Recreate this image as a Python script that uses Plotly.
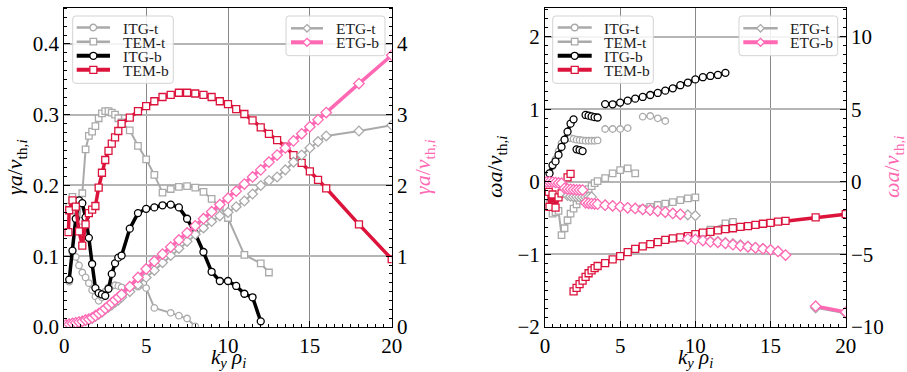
import plotly.graph_objects as go

# ---------------- data ----------------
# growth rates (left panel)
ky_itg_b = [0.3,0.5,0.7,0.9,1.1,1.3,1.5,1.7,1.9,2.1,2.3,2.5,2.7,2.9,3.1,3.3,3.5,
            4.0,4.5,5.0,5.5,6.0,6.5,7.0,7.5,8.0,8.5,9.0,9.5,10.0,10.5,11.0,11.5,12.0]
gamma_itg_b = [0.067,0.108,0.153,0.179,0.175,0.155,0.126,0.089,0.055,0.048,0.046,0.044,0.054,0.075,0.090,0.098,0.101,
               0.139,0.161,0.167,0.169,0.172,0.173,0.169,0.153,0.132,0.106,0.078,0.065,0.065,0.058,0.047,0.042,0.008]

ky_itg_t = [0.3,0.5,0.7,0.9,1.1,1.3,1.5,1.7,1.9,2.1,2.3,2.5,2.7,2.9,3.1,3.3,3.5,
            4.0,4.5,5.0,5.5,6.5,7.0,7.5,8.0]
gamma_itg_t = [0.064,0.105,0.099,0.087,0.077,0.070,0.062,0.052,0.043,0.037,0.042,0.050,0.056,0.058,0.059,0.058,0.056,
               0.053,0.057,0.055,0.027,0.020,0.016,0.012,0.001]

ky_tem_t = [0.3,0.5,0.7,0.9,1.1,1.3,1.5,1.7,1.9,2.1,2.3,2.5,2.7,2.9,3.1,3.3,3.5,
            4.0,4.5,5.0,5.5,6.0,6.5,7.0,7.5,8.0,8.5,9.0,9.5,10.0,11.0,12.0,12.5]
gamma_tem_t = [0.170,0.184,0.165,0.150,0.189,0.251,0.270,0.276,0.284,0.295,0.302,0.305,0.305,0.303,0.300,0.295,0.289,
               0.278,0.256,0.237,0.215,0.190,0.195,0.198,0.199,0.197,0.191,0.181,0.170,0.154,0.102,0.090,0.077]

ky_tem_b = [0.25,0.3,0.5,0.7,0.9,1.1,1.3,1.5,1.7,1.9,2.1,2.3,2.5,2.7,2.9,3.1,3.3,3.5,
            4.0,4.5,5.0,5.5,6.0,6.5,7.0,7.5,8.0,8.5,9.0,9.5,10.0,10.5,11.0,11.5,12.0,12.5,13.0,13.5,
            14.0,14.5,15.0,15.5,16.0,18.0,20.0]
gamma_tem_b = [0.134,0.165,0.179,0.170,0.135,0.115,0.145,0.161,0.166,0.171,0.197,0.218,0.236,0.249,0.259,0.268,0.277,0.287,
               0.296,0.305,0.312,0.319,0.325,0.328,0.331,0.331,0.330,0.328,0.325,0.319,0.315,0.308,0.301,0.292,0.282,
               0.273,0.264,0.255,0.243,0.232,0.220,0.208,0.196,0.145,0.096]

ky_etg = [0.1,0.3,0.5,0.7,0.9,1.1,1.3,1.5,1.7,1.9,2.1,2.3,2.5,2.7,2.9,3.1,3.3,3.5,
          4.0,4.5,5.0,5.5,6.0,6.5,7.0,7.5,8.0,8.5,9.0,9.5,10.0,10.5,11.0,11.5,12.0,12.5,13.0,13.5,
          14.0,14.5,15.0,15.5,16.0,18.0,20.0]
gamma_etg_t = [0.03,0.04,0.05,0.06,0.07,0.08,0.09,0.10,0.12,0.15,0.18,0.21,0.25,0.28,0.31,0.35,0.38,0.42,
               0.50,0.60,0.70,0.80,0.91,1.01,1.11,1.21,1.31,1.40,1.49,1.57,1.62,1.70,1.78,1.88,2.00,2.07,2.12,2.22,
               2.33,2.43,2.53,2.62,2.70,2.77,2.85]
gamma_etg_b = [0.03,0.04,0.05,0.06,0.07,0.08,0.10,0.11,0.13,0.16,0.19,0.22,0.26,0.30,0.34,0.38,0.42,0.46,
               0.57,0.70,0.82,0.93,1.03,1.13,1.23,1.33,1.43,1.53,1.63,1.73,1.82,1.92,2.02,2.12,2.22,2.33,2.43,2.53,
               2.63,2.73,2.83,2.93,3.03,3.44,3.84]

# real frequencies (right panel); None marks a break between mode branches
kyw_itg_t = [0.3,0.5,0.7,0.9,1.1,1.3,1.5,1.7,1.9,2.1,2.3,2.5,2.7,2.9,3.1,3.3,3.5,None,
             4.0,4.5,5.0,5.5,None,6.5,7.0,7.5,8.0]
omega_itg_t = [0.12,0.21,0.31,0.42,0.53,0.58,0.60,0.60,0.59,0.58,0.575,0.57,0.565,0.565,0.565,0.565,0.57,None,
               0.727,0.727,0.727,0.74,None,0.897,0.906,0.874,0.837]

kyw_tem_t = [0.3,0.5,0.7,0.9,1.1,1.3,1.5,1.7,1.9,2.1,2.3,2.5,2.7,2.9,3.1,3.3,3.5,4.0,4.5,5.0,5.5,6.0,None,
             6.5,7.0,7.5,8.0,8.5,9.0,9.5,10.0,None,11.0,12.0,12.5]
omega_tem_t = [-0.30,-0.44,-0.42,-0.40,-0.735,-0.64,-0.53,-0.44,-0.37,-0.31,-0.26,-0.21,-0.15,-0.10,-0.06,-0.02,0.01,
               0.05,0.116,0.16,0.185,0.116,None,-0.37,-0.345,-0.32,-0.30,-0.28,-0.253,-0.23,-0.215,None,
               -0.66,-0.574,-0.552]

kyw_itg_b = [0.3,0.5,0.7,0.9,1.1,1.3,1.5,1.7,1.9,None,2.1,2.3,2.5,None,2.7,2.9,3.1,3.3,3.5,None,
             4.0,4.5,5.0,5.5,6.0,6.5,7.0,7.5,8.0,8.5,9.0,9.5,10.0,10.5,11.0,11.5,12.0]
omega_itg_b = [0.115,0.23,0.28,0.37,0.48,0.58,0.69,0.80,0.86,None,0.447,0.437,0.423,None,0.92,0.91,0.90,0.89,0.885,None,
               1.07,1.067,1.09,1.117,1.145,1.168,1.195,1.223,1.255,1.287,1.33,1.366,1.41,1.44,1.457,1.471,1.50]

kyw_tem_b = [0.25,0.3,0.5,0.7,0.9,1.1,None,1.5,1.7,None,1.9,2.1,2.3,2.5,2.7,2.9,3.1,3.3,3.5,
             4.0,4.5,5.0,5.5,6.0,6.5,7.0,7.5,8.0,8.5,9.0,9.5,10.0,10.5,11.0,11.5,12.0,12.5,13.0,13.5,
             14.0,14.5,15.0,15.5,16.0,18.0,20.0]
omega_tem_b = [-0.14,-0.345,-0.175,-0.355,-0.215,-0.16,None,0.06,0.11,None,-1.51,-1.46,-1.41,-1.36,-1.31,-1.26,-1.22,-1.19,-1.16,
               -1.12,-1.07,-1.025,-0.97,-0.925,-0.89,-0.86,-0.83,-0.80,-0.78,-0.767,-0.749,-0.72,-0.70,-0.69,-0.67,
               -0.652,-0.64,-0.62,-0.61,-0.593,-0.578,-0.566,-0.55,-0.538,-0.49,-0.446]

kyw_etg_t = [0.1,0.3,0.5,0.7,0.9,1.1,1.3,1.5,1.7,1.9,2.1,2.3,2.5,2.7,2.9,3.1,None,3.3,3.5,
             4.0,4.5,5.0,5.5,6.0,6.5,7.0,7.5,8.0,8.5,9.0,9.5,10.0,None,10.5,11.0,11.5,12.0,12.5,13.0,13.5,
             14.0,14.5,15.0,15.5,16.0,None,18.0,20.0]
omega_etg_t = [0.0,0.0,-0.02,-0.05,-0.08,-0.10,-0.45,-0.95,-1.00,-1.02,-1.03,-1.04,-1.04,-1.04,-1.04,-1.04,None,-1.52,-1.54,
               -1.61,-1.66,-1.72,-1.79,-1.84,-1.90,-1.95,-2.02,-2.09,-2.18,-2.24,-2.28,-2.33,None,-4.03,-4.10,-4.12,
               -4.18,-4.26,-4.34,-4.43,-4.52,-4.60,-4.68,-4.80,-5.05,None,-8.68,-9.05]

kyw_etg_b = [0.1,0.3,0.5,0.7,0.9,1.1,1.3,1.5,1.7,1.9,2.1,2.3,2.5,None,2.7,2.9,3.1,3.3,3.5,
             4.0,4.5,5.0,5.5,6.0,6.5,7.0,7.5,8.0,8.5,9.0,None,9.5,10.0,10.5,11.0,11.5,12.0,12.5,13.0,13.5,
             14.0,14.5,15.0,15.5,16.0,None,18.0,20.0]
omega_etg_b = [0.0,0.0,-0.02,-0.05,-0.08,-0.10,-0.45,-0.50,-0.52,-0.54,-0.55,-0.56,-0.57,None,-1.45,-1.48,-1.50,-1.52,-1.54,
               -1.61,-1.66,-1.72,-1.79,-1.84,-1.90,-1.95,-2.02,-2.09,-2.18,-2.24,None,-3.93,-3.97,-4.05,-4.14,-4.17,
               -4.24,-4.33,-4.41,-4.48,-4.55,-4.62,-4.69,-4.80,-5.05,None,-8.57,-8.97]

legend_a = ["ITG-t", "TEM-t", "ITG-b", "TEM-b"]
legend_b = ["ETG-t", "ETG-b"]

# ---------------- styles ----------------
GRAY = "#aaaaaa"
BLACK = "#000000"
RED = "#dc143c"
PINK = "#ff69b4"
FONT = "Liberation Serif"
STYLE = {
    "ITG-t": (GRAY, "circle", 2.0, 6.5),
    "TEM-t": (GRAY, "square", 2.0, 6.5),
    "ETG-t": (GRAY, "diamond", 2.0, 7.5),
    "ITG-b": (BLACK, "circle", 3.5, 7.0),
    "TEM-b": (RED, "square", 3.5, 7.0),
    "ETG-b": (PINK, "diamond", 3.5, 8.0),
}

W, H = 907, 372
def px(x):
    return x / W
def py(y):
    return 1 - y / H

fig = go.Figure()

def add(x, y, name, xa, ya):
    color, symbol, lw, ms = STYLE[name]
    fig.add_trace(go.Scatter(
        x=x, y=y, name=name, mode="lines+markers",
        line=dict(color=color, width=lw),
        marker=dict(symbol=symbol, size=ms, color="white", line=dict(color=color, width=1.3)),
        xaxis=xa, yaxis=ya, showlegend=False, connectgaps=False,
    ))

# left panel
add(ky_itg_t, gamma_itg_t, "ITG-t", "x", "y")
add(ky_tem_t, gamma_tem_t, "TEM-t", "x", "y")
add(ky_etg, gamma_etg_t, "ETG-t", "x", "y2")
add(ky_itg_b, gamma_itg_b, "ITG-b", "x", "y")
add(ky_tem_b, gamma_tem_b, "TEM-b", "x", "y")
add(ky_etg, gamma_etg_b, "ETG-b", "x", "y2")

# right panel
add(kyw_itg_t, omega_itg_t, "ITG-t", "x2", "y3")
add(kyw_tem_t, omega_tem_t, "TEM-t", "x2", "y3")
add(kyw_etg_t, omega_etg_t, "ETG-t", "x2", "y4")
add(kyw_itg_b, omega_itg_b, "ITG-b", "x2", "y3")
add(kyw_tem_b, omega_tem_b, "TEM-b", "x2", "y3")
add(kyw_etg_b, omega_etg_b, "ETG-b", "x2", "y4")

tickfont = dict(family=FONT, size=21, color="black")
common = dict(showline=True, linecolor="black", linewidth=1, ticks="inside", ticklen=6,
              tickcolor="black", tickfont=tickfont, zeroline=False, automargin=False)

def minor(d):
    return dict(dtick=d, ticks="inside", ticklen=3, tickcolor="black", showgrid=False)

ydom = [py(327), py(7.5)]
fig.update_layout(
    width=W, height=H, margin=dict(l=0, r=0, t=0, b=0, pad=0),
    paper_bgcolor="white", plot_bgcolor="white",
    xaxis=dict(domain=[px(64.3), px(391.7)], range=[0, 20], dtick=5, anchor="y",
               showgrid=True, gridcolor="#888888", gridwidth=1, mirror=True, minor=minor(0.5), **common),
    yaxis=dict(domain=ydom, range=[0, 0.4515], dtick=0.1, tickformat=".1f", anchor="x",
               showgrid=True, gridcolor="#b5b5b5", gridwidth=1.5, mirror=True, minor=minor(0.0125), **common),
    yaxis2=dict(range=[0, 4.515], dtick=1, overlaying="y", side="right", anchor="x",
                showgrid=False, minor=minor(0.125), **common),
    xaxis2=dict(domain=[px(545), px(845.7)], range=[0, 20], dtick=5, anchor="y3",
                showgrid=True, gridcolor="#888888", gridwidth=1, mirror=True, minor=minor(0.5), **common),
    yaxis3=dict(domain=ydom, range=[-2, 2.4], dtick=1, anchor="x2",
                showgrid=True, gridcolor="#b5b5b5", gridwidth=1.5, mirror=True, minor=minor(0.125), **common),
    yaxis4=dict(range=[-10, 12], dtick=5, overlaying="y3", side="right", anchor="x2",
                showgrid=False, minor=minor(0.625), **common),
)

# ---------------- legends (drawn as shapes + text) ----------------
def rounded_box(x0, y0, x1, y1, r=3):
    X = lambda v: px(v)
    Y = lambda v: py(v)
    path = (f"M {X(x0+r)},{Y(y0)} L {X(x1-r)},{Y(y0)} Q {X(x1)},{Y(y0)} {X(x1)},{Y(y0+r)} "
            f"L {X(x1)},{Y(y1-r)} Q {X(x1)},{Y(y1)} {X(x1-r)},{Y(y1)} "
            f"L {X(x0+r)},{Y(y1)} Q {X(x0)},{Y(y1)} {X(x0)},{Y(y1-r)} "
            f"L {X(x0)},{Y(y0+r)} Q {X(x0)},{Y(y0)} {X(x0+r)},{Y(y0)} Z")
    fig.add_shape(type="path", path=path, xref="paper", yref="paper",
                  fillcolor="rgba(255,255,255,0.85)", line=dict(color="#d3d3d3", width=1), layer="above")

def marker_shape(cx, cy, symbol, color, size):
    h = size / 2
    if symbol == "circle":
        fig.add_shape(type="circle", xref="paper", yref="paper",
                      x0=px(cx - h), x1=px(cx + h), y0=py(cy + h), y1=py(cy - h),
                      fillcolor="white", line=dict(color=color, width=1.3), layer="above")
    elif symbol == "square":
        fig.add_shape(type="rect", xref="paper", yref="paper",
                      x0=px(cx - h), x1=px(cx + h), y0=py(cy + h), y1=py(cy - h),
                      fillcolor="white", line=dict(color=color, width=1.3), layer="above")
    else:
        path = (f"M {px(cx)},{py(cy-h)} L {px(cx+h)},{py(cy)} L {px(cx)},{py(cy+h)} "
                f"L {px(cx-h)},{py(cy)} Z")
        fig.add_shape(type="path", path=path, xref="paper", yref="paper",
                      fillcolor="white", line=dict(color=color, width=1.3), layer="above")

legfont = dict(family=FONT, size=15.5, color="#222222")

def legend(names, box, x_line0, x_line1, x_text, ys):
    rounded_box(*box)
    for name, yy in zip(names, ys):
        color, symbol, lw, ms = STYLE[name]
        fig.add_shape(type="line", xref="paper", yref="paper",
                      x0=px(x_line0), x1=px(x_line1), y0=py(yy), y1=py(yy),
                      line=dict(color=color, width=lw + 0.5), layer="above")
        marker_shape((x_line0 + x_line1) / 2, yy, symbol, color, ms)
        fig.add_annotation(xref="paper", yref="paper", x=px(x_text), y=py(yy + 0.5), text=name,
                           showarrow=False, xanchor="left", yanchor="middle", font=legfont)

legend(legend_a, (72.7, 16, 173.3, 83.3), 76.7, 110, 121, [27.5, 41.7, 55.8, 69.8])
legend(legend_b, (286, 16, 385, 55.7), 291, 323, 334, [28.3, 42.3])
legend(legend_a, (552.7, 16, 653.3, 83.3), 557.7, 591.7, 601.5, [27.5, 41.7, 55.8, 69.8])
legend(legend_b, (739, 16, 837.7, 55.7), 743.3, 777.7, 788, [28.3, 42.3])

# ---------------- axis labels ----------------
labfont = dict(family=FONT, size=21, color="black")
lab_gamma = "<i>γa</i>/<i>v</i><sub>th,<i>i</i></sub>"
lab_omega = "<i>ωa</i>/<i>v</i><sub>th,<i>i</i></sub>"
lab_k = "<i>k</i><sub><i>y</i></sub><i> ρ</i><sub><i>i</i></sub>"
ann = [
    dict(x=px(16), y=py(167), text=lab_gamma, textangle=-90, font=dict(labfont, size=22)),
    dict(x=px(424), y=py(167), text=lab_gamma, textangle=-90, font=dict(labfont, size=22, color=PINK)),
    dict(x=px(228), y=py(358), text=lab_k, font=labfont),
    dict(x=px(496), y=py(167), text=lab_omega, textangle=-90, font=dict(labfont, size=22)),
    dict(x=px(893), y=py(167), text=lab_omega, textangle=-90, font=dict(labfont, size=22, color=PINK)),
    dict(x=px(695), y=py(358), text=lab_k, font=labfont),
]
for a in ann:
    fig.add_annotation(xref="paper", yref="paper", showarrow=False,
                       xanchor="center", yanchor="middle", **a)

fig.write_html("out.html")
